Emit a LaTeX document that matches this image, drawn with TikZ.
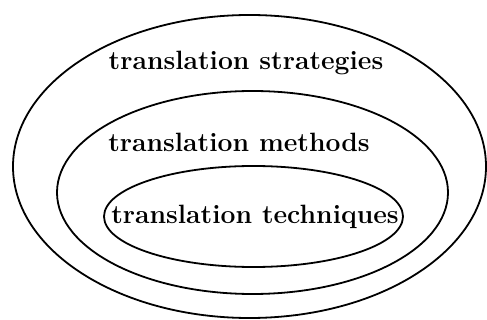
\documentclass[tikz,border=0pt]{standalone}
\usepackage{tikz}
\usetikzlibrary{shapes.geometric,positioning}
\tikzset{ring/.style={draw,ellipse,line width=1.8pt,inner sep=0pt},
         caption/.style={font=\fontsize{26.5}{30}\selectfont\bfseries,inner sep=0pt}}

\begin{document}
\begin{tikzpicture}[x=1pt,y=-1pt]
                   \useasboundingbox (0,0) rectangle (487,320);
                   \node[ring,minimum width=473pt,minimum height=303pt] (strategies) at (249.5,166.5) {};
                   \node[ring,minimum width=391pt,minimum height=203pt] (methods) at (252.5,192.5) {};
                   \node[ring,minimum width=299pt,minimum height=101pt] (techniques) at (253.5,216.5) {};
                   \node[caption] (strategies_text) at (246,63) {translation strategies};
                   \node[caption] (methods_text) at (239,142) {translation methods};
                   \node[caption] (techniques_text) at (255,217) {translation techniques};
                \end{tikzpicture}
\end{document}
